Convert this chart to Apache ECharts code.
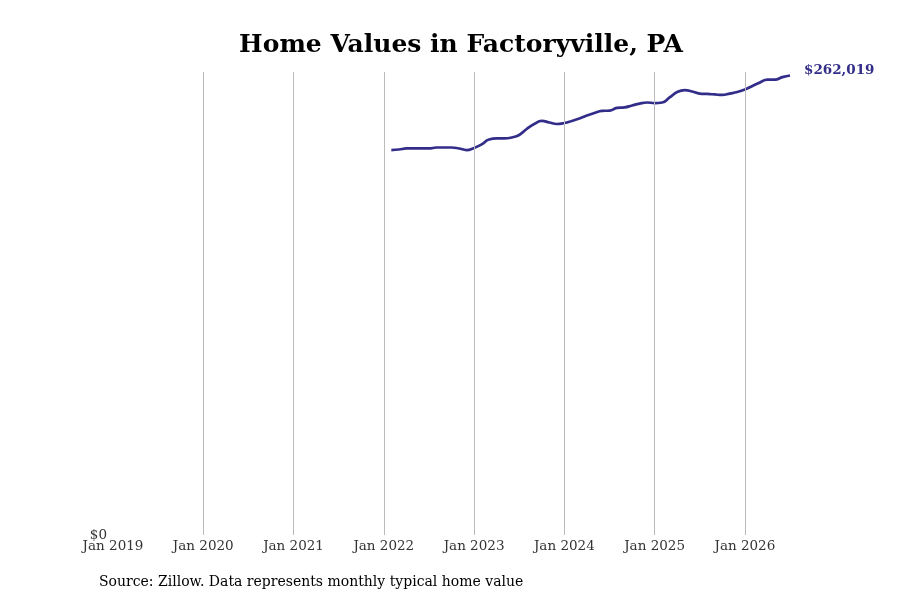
<!DOCTYPE html>
<html>
<head>
<meta charset="utf-8">
<script src="https://cdn.jsdelivr.net/npm/echarts@6/dist/echarts.min.js"></script>
<style>
  html, body { margin: 0; padding: 0; background: #fff; }
  #chart { width: 900px; height: 600px; }
</style>
</head>
<body>
<div id="chart"></div>
<script>
// monthly typical home value, Feb 2022 - Jul 2026
var months = [
  "2022-02", "2022-03", "2022-04", "2022-05", "2022-06", "2022-07", "2022-08", "2022-09", "2022-10", "2022-11", "2022-12",
  "2023-01", "2023-02", "2023-03", "2023-04", "2023-05", "2023-06", "2023-07", "2023-08", "2023-09", "2023-10", "2023-11", "2023-12",
  "2024-01", "2024-02", "2024-03", "2024-04", "2024-05", "2024-06", "2024-07", "2024-08", "2024-09", "2024-10", "2024-11", "2024-12",
  "2025-01", "2025-02", "2025-03", "2025-04", "2025-05", "2025-06", "2025-07", "2025-08", "2025-09", "2025-10", "2025-11", "2025-12",
  "2026-01", "2026-02", "2026-03", "2026-04", "2026-05", "2026-06", "2026-07"
];
var values = [
  219500, 219800, 220400, 220400, 220400, 220400, 220950, 220950, 220950, 220400, 219500,
  220700, 222700, 225500, 226100, 226100, 226650, 228100, 231500, 234350, 236100, 235200, 234350,
  234900, 236100, 237500, 239200, 240600, 241800, 242000, 243500, 243800, 244900, 246000, 246600,
  246300, 246600, 249500, 252600, 253700, 252900, 251700, 251500, 251200, 250900, 251700, 252600,
  254000, 256000, 258000, 259700, 259700, 261100, 262019
];
var startYear = 2019;
var yearTicks = ["Jan 2019", "Jan 2020", "Jan 2021", "Jan 2022", "Jan 2023", "Jan 2024", "Jan 2025", "Jan 2026"];

// months since Jan 2019
function monthIndex(s) {
  var p = s.split("-");
  return (parseInt(p[0], 10) - startYear) * 12 + parseInt(p[1], 10) - 1;
}

(function () {
  var myChart = echarts.init(document.getElementById("chart"));
  var seriesData = months.map(function (m, i) { return [monthIndex(m), values[i]]; });
  var lastX = seriesData[seriesData.length - 1][0];
  // vertical lines at every January except the first
  var gridLines = [];
  for (var k = 1; k < yearTicks.length; k++) {
    gridLines.push({ xAxis: k * 12 });
  }

  var option = {
    textStyle: { fontFamily: "DejaVu Serif" },
    title: {
      text: "Home Values in Factoryville, PA",
      left: 456,
      textAlign: "center",
      top: 28,
      textStyle: { fontFamily: "DejaVu Serif", fontSize: 25, fontWeight: "bold", color: "#000" }
    },
    graphic: [{
      type: "text",
      left: 99,
      top: 575,
      style: {
        text: "Source: Zillow. Data represents monthly typical home value",
        fontFamily: "DejaVu Serif",
        fontSize: 14,
        fill: "#000"
      }
    }],
    grid: { left: 113, right: 110, top: 72, bottom: 65 },
    xAxis: {
      type: "value",
      min: 0,
      max: lastX,
      interval: 12,
      axisLine: { show: false },
      axisTick: { show: false },
      splitLine: { show: false },
      axisLabel: {
        margin: 4,
        fontSize: 13.5,
        color: "#333",
        fontFamily: "DejaVu Serif",
        formatter: function (v) {
          if (v % 12 !== 0) return "";
          return yearTicks[v / 12] || "";
        }
      }
    },
    yAxis: {
      type: "value",
      min: 0,
      max: 264000,
      interval: 264000,
      axisLine: { show: false },
      axisTick: { show: false },
      splitLine: { show: false },
      axisLabel: {
        margin: 6,
        fontSize: 13.5,
        color: "#333",
        fontFamily: "DejaVu Serif",
        verticalAlign: "middle",
        padding: [0, 0, -3, 0],
        formatter: function (v) { return v === 0 ? "$0" : ""; }
      }
    },
    series: [{
      type: "line",
      data: seriesData,
      smooth: true,
      showSymbol: false,
      lineStyle: { color: "#332d8a", width: 2.7 },
      itemStyle: { color: "#332d8a" },
      endLabel: {
        show: true,
        offset: [6, -5],
        fontFamily: "DejaVu Serif",
        fontSize: 13.5,
        fontWeight: "bold",
        color: "#332d8a",
        formatter: function (p) { return "$" + p.value[1].toLocaleString("en-US"); }
      },
      markLine: {
        silent: true,
        symbol: "none",
        label: { show: false },
        lineStyle: { color: "#bbb", width: 1, type: "solid" },
        data: gridLines
      }
    }]
  };

  myChart.setOption(option);
  window.addEventListener("resize", function () {
    myChart.resize();
  });
})();
</script>
</body>
</html>
